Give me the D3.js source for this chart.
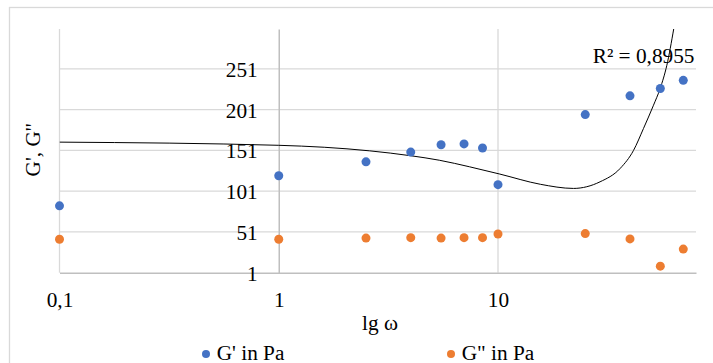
<!DOCTYPE html>
<html>
<head>
<meta charset="utf-8">
<script src="https://cdn.jsdelivr.net/npm/d3@7"></script>
<style>
  body { margin: 0; background: #fff; }
  svg { display: block; }
  text { font-family: "Liberation Serif", "Times New Roman", serif; fill: #000; }
</style>
</head>
<body>
<div id="chart"></div>
<script>
// angular frequency, rad/s
const omega = [0.1, 1, 2.5, 4, 5.5, 7, 8.5, 10, 25, 40, 55, 70];
// storage modulus G', Pa
const gStorage = [83, 120, 137, 149, 158, 159, 154, 109, 195, 218, 227, 237];
// loss modulus G'', Pa
const gLoss = [42, 42, 43.5, 44, 43.5, 44, 44, 48.5, 49, 42.5, 9, 30];

// polynomial trend of G' (sampled along the curve)
const trendOmega = [0.1, 1, 2.6, 4, 5.4, 7.4, 10.2, 15.6, 22.1, 29.2, 36.1, 41.5, 46.1, 51.2, 54.9, 58.9, 63.3];
const trendValue = [161.2, 157.3, 150.5, 144.5, 139, 131, 122, 109.5, 104.4, 112.5, 129, 151, 178, 206.5, 227, 255.5, 300];
const trendLabel = "R² = 0,8955";

const xTicks = [0.1, 1, 10];
const yTicks = [1, 51, 101, 151, 201, 251];

const seriesNames = ["G' in Pa", "G\" in Pa"];
const colors = ["#4472C4", "#ED7D31"];

const width = 713, height = 363;
const plot = { left: 59.5, right: 696, top: 29, bottom: 272.7 };
const fontSize = "21.3px";

const svg = d3.select("#chart").append("svg")
  .attr("width", width)
  .attr("height", height);

// chart border
svg.append("rect")
  .attr("x", 9.5).attr("y", 7.5)
  .attr("width", 740).attr("height", 420)
  .attr("fill", "none")
  .attr("stroke", "#d9d9d9")
  .attr("stroke-width", 1.3);

const x = d3.scaleLog()
  .domain([0.1, 80])
  .range([plot.left, plot.right]);

const y = d3.scaleLinear()
  .domain([1, 300])
  .range([plot.bottom, plot.top]);

// gridlines
svg.append("g")
  .selectAll("line")
  .data(yTicks.slice(1))
  .join("line")
    .attr("x1", plot.left).attr("x2", plot.right)
    .attr("y1", d => y(d)).attr("y2", d => y(d))
    .attr("stroke", "#d9d9d9")
    .attr("stroke-width", 1.3);

svg.append("g")
  .selectAll("line")
  .data(xTicks.filter(d => d !== 1))
  .join("line")
    .attr("x1", d => x(d)).attr("x2", d => x(d))
    .attr("y1", plot.top).attr("y2", plot.bottom)
    .attr("stroke", "#d9d9d9")
    .attr("stroke-width", 1.3);

// x axis along the bottom
const xAxis = svg.append("g")
  .attr("transform", `translate(0,${plot.bottom})`)
  .call(d3.axisBottom(x)
    .tickValues(xTicks)
    .tickFormat(d => String(d).replace(".", ","))
    .tickSize(0));
xAxis.select(".domain").attr("stroke", "#bfbfbf").attr("stroke-width", 1.5);
xAxis.selectAll(".tick text")
  .attr("y", 34).attr("dy", null)
  .style("font-size", fontSize);

// y axis crosses at omega = 1
const yAxis = svg.append("g")
  .attr("transform", `translate(${x(1)},0)`)
  .call(d3.axisLeft(y)
    .tickValues(yTicks)
    .tickSize(0)
    .tickPadding(21));
yAxis.select(".domain").attr("stroke", "#bfbfbf").attr("stroke-width", 1.5);
yAxis.selectAll(".tick text")
  .attr("dy", "0.35em")
  .style("font-size", fontSize);

// axis titles
svg.append("text")
  .attr("x", 380).attr("y", 330)
  .attr("text-anchor", "middle")
  .style("font-size", fontSize)
  .text("lg ω");

svg.append("text")
  .attr("transform", "translate(39.5,150) rotate(-90)")
  .attr("text-anchor", "middle")
  .style("font-size", fontSize)
  .text("G', G''");

// trendline
svg.append("clipPath").attr("id", "plot-clip")
  .append("rect")
    .attr("x", plot.left).attr("y", plot.top)
    .attr("width", plot.right - plot.left)
    .attr("height", plot.bottom - plot.top);

const trend = trendOmega.map((d, i) => [d, trendValue[i]]);
svg.append("path")
  .datum(trend)
  .attr("clip-path", "url(#plot-clip)")
  .attr("fill", "none")
  .attr("stroke", "#000")
  .attr("stroke-width", 1)
  .attr("d", d3.line()
    .x(d => x(d[0]))
    .y(d => y(d[1]))
    .curve(d3.curveMonotoneX));

svg.append("text")
  .attr("x", 592.7).attr("y", 62.7)
  .style("font-size", fontSize)
  .text(trendLabel);

// data points
[gLoss, gStorage].forEach((values, k) => {
  const color = k === 0 ? colors[1] : colors[0];
  svg.append("g")
    .selectAll("circle")
    .data(values.map((v, i) => [omega[i], v]))
    .join("circle")
      .attr("cx", d => x(d[0]))
      .attr("cy", d => y(d[1]))
      .attr("r", 4.5)
      .attr("fill", color);
});

// legend
const legendX = [206, 451];
const legend = svg.append("g")
  .selectAll("g")
  .data(seriesNames)
  .join("g")
    .attr("transform", (d, i) => `translate(${legendX[i]},354)`);
legend.append("circle")
  .attr("r", 4)
  .attr("fill", (d, i) => colors[i]);
legend.append("text")
  .attr("x", 10.7).attr("y", 6)
  .style("font-size", fontSize)
  .text(d => d);
</script>
</body>
</html>
